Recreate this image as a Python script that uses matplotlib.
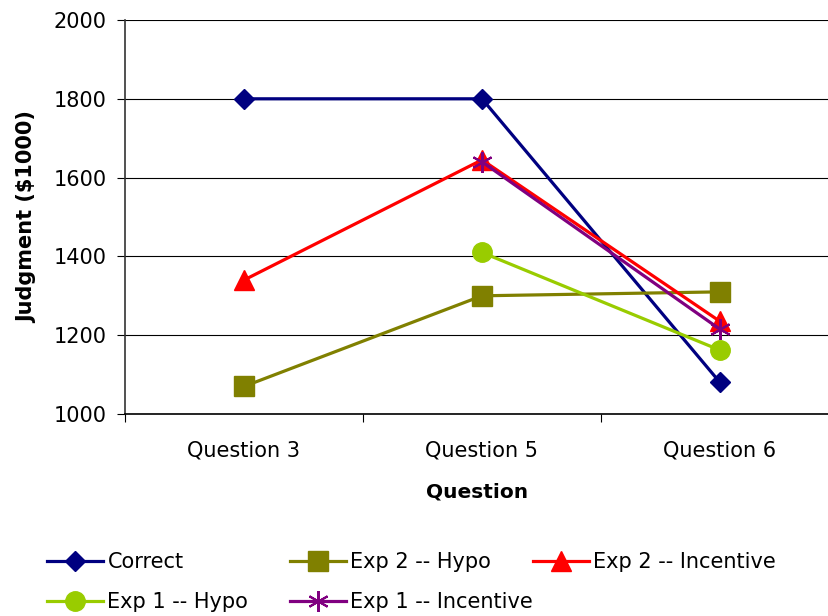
import numpy as np
import matplotlib.pyplot as plt
from matplotlib.ticker import FixedLocator

questions = ['Question 3', 'Question 5', 'Question 6']
correct = [1800, 1800, 1080]
exp2_hypo = [1070, 1300, 1310]
exp2_incentive = [1340, 1645, 1235]
exp1_hypo = [np.nan, 1410, 1162]
exp1_incentive = [np.nan, 1640, 1215]

fig = plt.figure(figsize=(8.29, 6.16), dpi=100)
ax = fig.add_axes([125 / 829, 1 - 414 / 616, 704 / 829, 394 / 616])

x = np.arange(len(questions))
h1, = ax.plot(x, correct, color='#000080', lw=2.3, marker='D', ms=10.5, label='Correct')
h2, = ax.plot(x, exp2_hypo, color='#808000', lw=2.3, marker='s', ms=14, label='Exp 2 -- Hypo')
h3, = ax.plot(x, exp2_incentive, color='#FF0000', lw=2.3, marker='^', ms=15,
              label='Exp 2 -- Incentive')
h4, = ax.plot(x, exp1_hypo, color='#99CC00', lw=2.3, marker='o', ms=14, label='Exp 1 -- Hypo')
h5, = ax.plot(x, exp1_incentive, color='#800080', lw=2.3, marker=(6, 2, 0), ms=15, mew=1.5,
              label='Exp 1 -- Incentive')

ax.set_ylim(1000, 2000)
ax.set_yticks(np.arange(1000, 2001, 200))
ax.set_xlim(-0.5, -0.5 + 704 / 238)
ax.set_xticks(x)
ax.set_xticklabels(questions)
ax.xaxis.set_minor_locator(FixedLocator([-0.5, 0.5, 1.5, 2.5]))
ax.tick_params(axis='x', which='major', length=0, pad=19, labelsize=15)
ax.tick_params(axis='x', which='minor', length=6, direction='out', width=0.8)
ax.tick_params(axis='y', length=6, direction='out', width=0.8, labelsize=15, pad=7)
ax.grid(axis='y', color='black', lw=0.8)
ax.set_axisbelow(True)
for s in ['top', 'right']:
    ax.spines[s].set_visible(False)
ax.spines['left'].set_linewidth(1.2)
ax.spines['left'].set_color('#333333')
ax.spines['bottom'].set_linewidth(1.2)

ax.set_xlabel('Question', fontsize=14.5, fontweight='bold', labelpad=16)
ax.set_ylabel('Judgment ($1000)', fontsize=15, fontweight='bold', labelpad=12)

# legend columns placed like the original's fixed legend layout
cols = [([h1, h4], 47), ([h2, h5], 290), ([h3], 533)]
for handles, xpix in cols:
    leg = fig.legend(handles=handles, loc='upper left',
                     bbox_to_anchor=(xpix / 829, 1 - 552 / 616), frameon=False,
                     fontsize=15, handlelength=2.7, handletextpad=0.2,
                     labelspacing=0.95, borderpad=0, borderaxespad=0)

fig.savefig('out.png', dpi=100)
